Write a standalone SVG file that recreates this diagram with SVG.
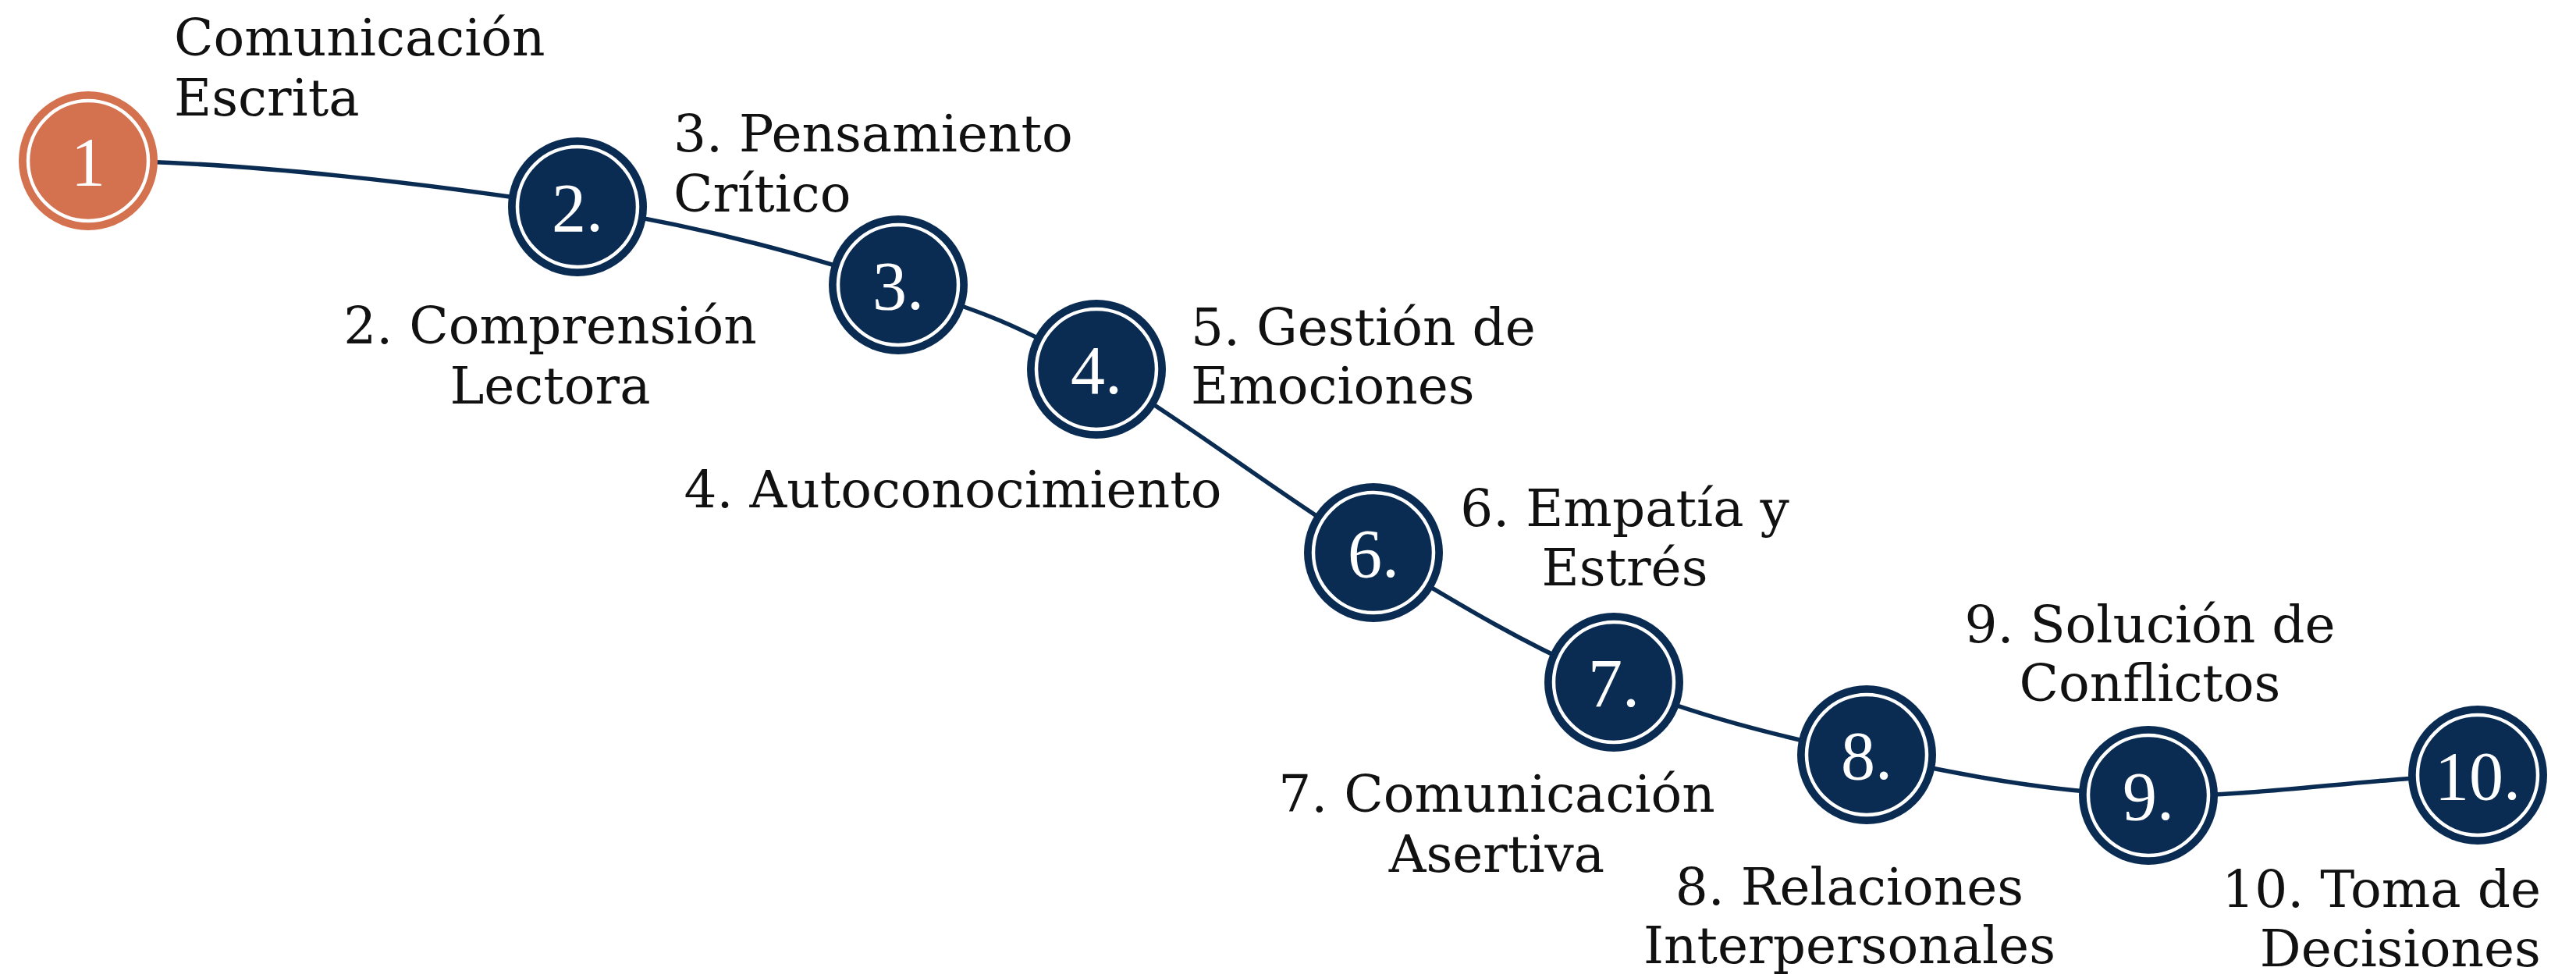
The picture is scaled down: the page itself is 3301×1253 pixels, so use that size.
<svg xmlns="http://www.w3.org/2000/svg" width="3301" height="1253" viewBox="0 0 3301 1253">
<style>
.lbl{font-family:"DejaVu Serif","Liberation Serif",serif;font-size:66px;fill:#111111}
.num{font-family:"Liberation Serif","DejaVu Serif",serif;font-size:88px;fill:#ffffff;text-anchor:middle}
.c{text-anchor:middle}
.r{text-anchor:end}
.dk{fill:#0b2c52}
.or{fill:#d4714f}
.ring{fill:none;stroke:#ffffff;stroke-width:4.5}
.conn{fill:none;stroke:#0b2c52;stroke-width:5.5;stroke-linecap:round}
</style>
<rect width="3301" height="1253" fill="#ffffff"/>
<g id="connectors">
<path class="conn" d="M113,206 C313,206 567,238 740,265 C913,292 1040,330 1151,365 C1262,400 1303,416 1405,473 C1506,530 1649,641 1760,708 C1870,775 1963,831 2068,874 C2173,917 2278,943 2392,967 C2506,991 2622,1015 2753,1019 C2883,1023 3035,996 3175,993"/>
</g>
<g id="node1"><circle class="or" cx="113" cy="206" r="89"/><circle class="ring" cx="113" cy="206" r="77"/><text class="num" x="113" y="237">1</text></g>
<g id="node2"><circle class="dk" cx="740" cy="265" r="89"/><circle class="ring" cx="740" cy="265" r="77"/><text class="num" x="740" y="296">2.</text></g>
<g id="node3"><circle class="dk" cx="1151" cy="365" r="89"/><circle class="ring" cx="1151" cy="365" r="77"/><text class="num" x="1151" y="396">3.</text></g>
<g id="node4"><circle class="dk" cx="1405" cy="473" r="89"/><circle class="ring" cx="1405" cy="473" r="77"/><text class="num" x="1405" y="504">4.</text></g>
<g id="node6"><circle class="dk" cx="1760" cy="708" r="89"/><circle class="ring" cx="1760" cy="708" r="77"/><text class="num" x="1760" y="739">6.</text></g>
<g id="node7"><circle class="dk" cx="2068" cy="874" r="89"/><circle class="ring" cx="2068" cy="874" r="77"/><text class="num" x="2068" y="905">7.</text></g>
<g id="node8"><circle class="dk" cx="2392" cy="967" r="89"/><circle class="ring" cx="2392" cy="967" r="77"/><text class="num" x="2392" y="998">8.</text></g>
<g id="node9"><circle class="dk" cx="2753" cy="1019" r="89"/><circle class="ring" cx="2753" cy="1019" r="77"/><text class="num" x="2753" y="1050">9.</text></g>
<g id="node10"><circle class="dk" cx="3175" cy="993" r="89"/><circle class="ring" cx="3175" cy="993" r="77"/><text class="num" x="3175" y="1024">10.</text></g>
<g id="labels">
<text class="lbl" x="223" y="71">Comunicación</text>
<text class="lbl" x="223" y="148">Escrita</text>
<text class="lbl" x="863" y="194">3. Pensamiento</text>
<text class="lbl" x="863" y="271">Crítico</text>
<text class="lbl c" x="705" y="440">2. Comprensión</text>
<text class="lbl c" x="705" y="517">Lectora</text>
<text class="lbl" x="1526" y="442">5. Gestión de</text>
<text class="lbl" x="1526" y="517">Emociones</text>
<text class="lbl c" x="1221" y="650">4. Autoconocimiento</text>
<text class="lbl c" x="2082" y="674">6. Empatía y</text>
<text class="lbl c" x="2082" y="750">Estrés</text>
<text class="lbl c" x="1918" y="1040">7. Comunicación</text>
<text class="lbl c" x="1918" y="1117">Asertiva</text>
<text class="lbl c" x="2370" y="1159">8. Relaciones</text>
<text class="lbl c" x="2370" y="1234">Interpersonales</text>
<text class="lbl c" x="2755" y="823">9. Solución de</text>
<text class="lbl c" x="2755" y="898">Conflictos</text>
<text class="lbl r" x="3256" y="1162">10. Toma de</text>
<text class="lbl r" x="3256" y="1238">Decisiones</text>
</g>
</svg>
